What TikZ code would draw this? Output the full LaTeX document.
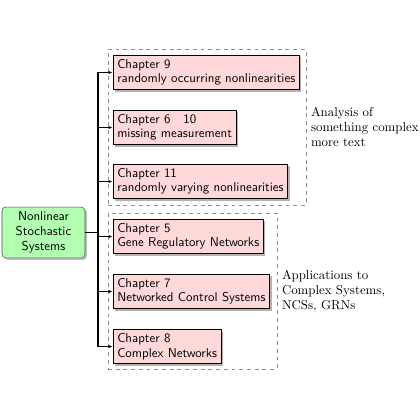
\documentclass[tikz,border=0pt]{standalone}
\usetikzlibrary{shadows,fit,arrows.meta,calc}
\begin{document}
\begin{tikzpicture}[x=0.777pt,y=-0.777pt,
  chap/.style={draw=black,thick,fill=red!15,drop shadow={opacity=0.6,shadow xshift=1.5pt,shadow yshift=-1.5pt},
    anchor=west,align=left,font=\sffamily\fontsize{10}{11.2}\selectfont,inner sep=3.3pt,minimum height=27pt},
  rootbox/.style={draw=black!70,fill=green!30,rounded corners=3pt,drop shadow={opacity=0.5,shadow xshift=1.5pt,shadow yshift=-1.5pt},
    align=center,font=\sffamily\fontsize{10}{11.6}\selectfont,minimum width=64.5pt,minimum height=39.6pt,inner sep=2pt},
  grp/.style={draw=black!45,dashed,inner sep=0pt},
  lbl/.style={anchor=west,align=left,inner sep=0pt,font=\fontsize{10}{11.6}\selectfont},
  conn/.style={thick,-{Latex[length=3pt,width=2.5pt]}},
]
\useasboundingbox (0,0) rectangle (420,420);
\node[rootbox] (root) at (43.5,232.5) {Nonlinear\\Stochastic\\Systems};
\node[chap] (c9) at (112.5,72.5) {Chapter 9\\randomly occurring nonlinearities};
\node[chap] (c6) at (112.5,127.5) {Chapter 6\ \ \ 10\\missing measurement};
\node[chap] (c11) at (112.5,181.5) {Chapter 11\\randomly varying nonlinearities};
\node[chap] (c5) at (112.5,236.5) {Chapter 5\\Gene Regulatory Networks};
\node[chap] (c7) at (112.5,291.5) {Chapter 7\\Networked Control Systems};
\node[chap] (c8) at (112.5,346.5) {Chapter 8\\Complex Networks};
\coordinate (ga1) at (108,49);
\coordinate (ga2) at (306,205);
\coordinate (gb1) at (108,213);
\coordinate (gb2) at (277,369);
\node[grp,fit=(ga1)(ga2)] (ga) {};
\node[grp,fit=(gb1)(gb2)] (gb) {};
\node[lbl] (la) at ($(ga.east)+(4.5,0)$) {Analysis of\\something complex\\more text};
\node[lbl] (lb) at ($(gb.east)+(4.5,0)$) {Applications to\\Complex Systems,\\NCSs, GRNs};
\coordinate (j) at (98,232.5);
\foreach \n in {c9,c6,c11,c5,c7,c8}
  \draw[conn] (root.east) -- (j) |- (\n.west);
\end{tikzpicture}
\end{document}
